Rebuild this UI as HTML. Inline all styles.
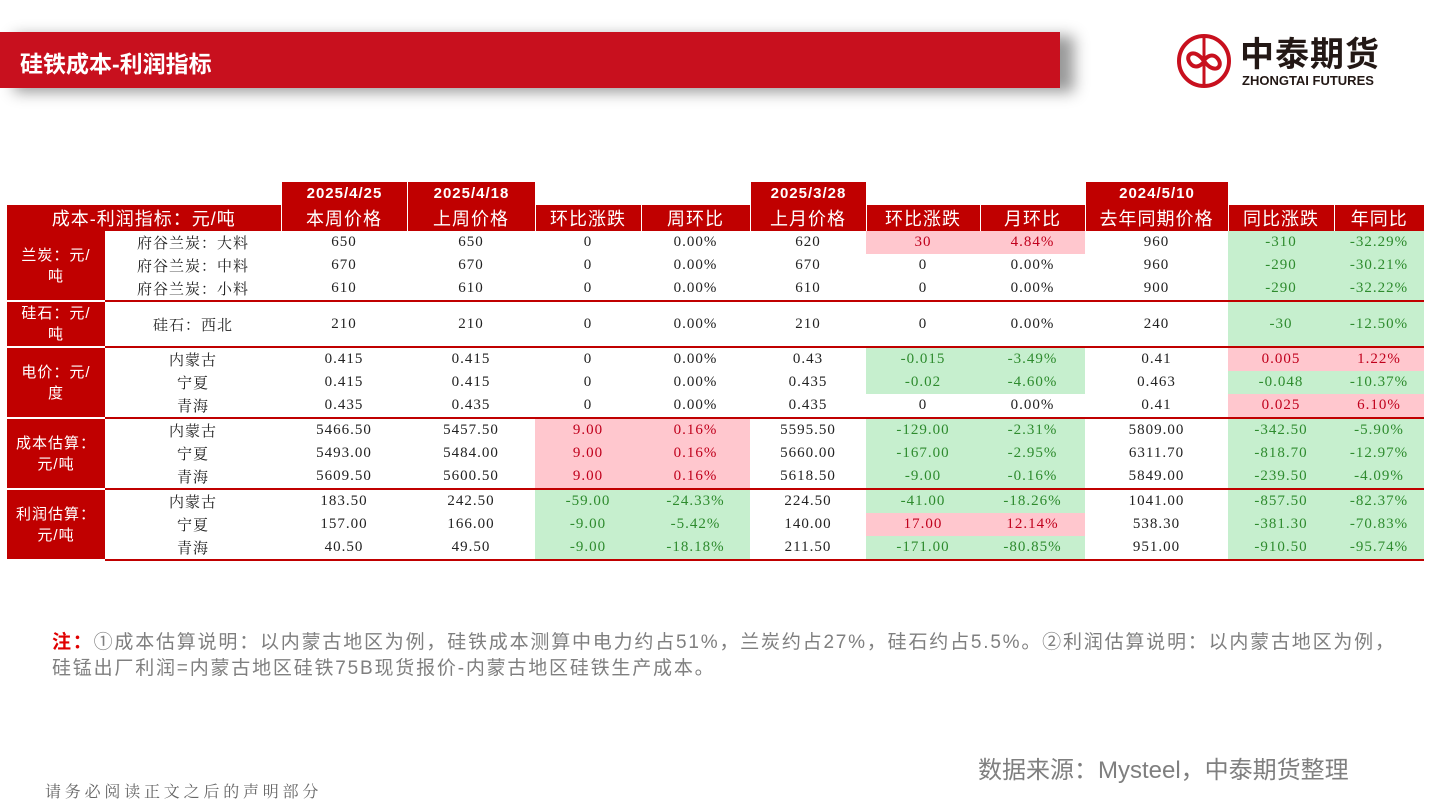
<!DOCTYPE html>
<html><head><meta charset="utf-8">
<style>
body{margin:0;width:1440px;height:810px;background:#fff;position:relative;overflow:hidden;font-family:"Liberation Sans","Noto Sans CJK SC",sans-serif;}
.abs{position:absolute;}
#bar{left:0;top:32px;width:1060px;height:56px;background:#c8101e;box-shadow:14px 4px 14px #999;}
#title{left:20px;top:45px;color:#fff;font-size:23px;font-weight:bold;}
table{position:absolute;left:7px;top:205px;border-collapse:collapse;table-layout:fixed;font-family:"Liberation Serif","Noto Serif CJK SC",serif;font-size:15px;color:#222;letter-spacing:1px;}
td{padding:0;height:23px;text-align:center;white-space:nowrap;}
th{background:#c00000;color:#fff;font-weight:normal;font-size:18px;height:25px;border-left:1px solid #fff;font-family:"Liberation Sans","Noto Sans CJK SC",sans-serif;padding:0;letter-spacing:1px;}
td.cat{background:#c00000;color:#fff;font-family:"Liberation Sans","Noto Sans CJK SC",sans-serif;font-size:15px;line-height:21px;white-space:normal;border-bottom:2px solid #fff;}
tr.gs td{border-top:2px solid #c00000;}
tr.gs td.cat{border-top:2px solid #fff;}
.p{background:#ffc7ce;color:#c0001c;}
.g{background:#c6efce;color:#2e8b2e;}
.date{top:182px;height:23px;background:#c00000;color:#fff;font-size:15px;font-weight:bold;text-align:center;line-height:23px;border-left:1px solid #fff;letter-spacing:1px;}
#note{left:52px;top:630px;font-size:19px;color:#7f7f7f;line-height:26px;width:1385px;letter-spacing:1.8px;white-space:nowrap;}
#src{left:978px;top:750px;font-size:24px;color:#7f7f7f;}
#foot{left:45px;top:779px;font-size:16px;color:#666;font-family:"Liberation Serif","Noto Serif CJK SC",serif;letter-spacing:3.8px;}
</style></head><body>
<div class="abs" id="bar"></div>
<div class="abs" id="title">硅铁成本-利润指标</div>
<div class="abs" style="left:1176px;top:33px;width:232px;height:56px;">
<svg width="58" height="56" style="position:absolute;left:0;top:0">
<circle cx="28" cy="28" r="25" fill="none" stroke="#c8101e" stroke-width="4"/>
<path d="M28 4 V52" stroke="#c8101e" stroke-width="3"/>
<path d="M28 28 C18 14 8 22 14 30 C20 38 28 30 28 28 C28 26 36 18 42 26 C48 34 38 42 28 28" fill="none" stroke="#c8101e" stroke-width="4"/>
</svg>
<div style="position:absolute;left:64px;top:2px;font-size:34px;font-weight:bold;color:#231815;letter-spacing:1px;line-height:40px;">中泰期货</div>
<div style="position:absolute;left:66px;top:40px;font-size:13px;font-weight:bold;color:#231815;">ZHONGTAI FUTURES</div>
</div>

<div class="abs date" style="left:281px;width:125px;">2025/4/25</div>
<div class="abs date" style="left:407px;width:127px;">2025/4/18</div>
<div class="abs date" style="left:750px;width:115px;">2025/3/28</div>
<div class="abs date" style="left:1085px;width:142px;">2024/5/10</div>

<table>
<colgroup><col style="width:98px"><col style="width:176px"><col style="width:126px"><col style="width:128px"><col style="width:106px"><col style="width:109px"><col style="width:116px"><col style="width:114px"><col style="width:105px"><col style="width:143px"><col style="width:106px"><col style="width:90px"></colgroup>
<tr><th colspan="2" style="border-left:none">成本-利润指标：元/吨</th><th>本周价格</th><th>上周价格</th><th>环比涨跌</th><th>周环比</th><th>上月价格</th><th>环比涨跌</th><th>月环比</th><th>去年同期价格</th><th>同比涨跌</th><th>年同比</th></tr>
<tr><td class="cat" rowspan="3">兰炭：元/<br>吨</td><td>府谷兰炭：大料</td><td>650</td><td>650</td><td>0</td><td>0.00%</td><td>620</td><td class="p">30</td><td class="p">4.84%</td><td>960</td><td class="g">-310</td><td class="g">-32.29%</td></tr>
<tr><td>府谷兰炭：中料</td><td>670</td><td>670</td><td>0</td><td>0.00%</td><td>670</td><td>0</td><td>0.00%</td><td>960</td><td class="g">-290</td><td class="g">-30.21%</td></tr>
<tr><td>府谷兰炭：小料</td><td>610</td><td>610</td><td>0</td><td>0.00%</td><td>610</td><td>0</td><td>0.00%</td><td>900</td><td class="g">-290</td><td class="g">-32.22%</td></tr>
<tr class="gs"><td class="cat" style="height:44px">硅石：元/<br>吨</td><td>硅石：西北</td><td>210</td><td>210</td><td>0</td><td>0.00%</td><td>210</td><td>0</td><td>0.00%</td><td>240</td><td class="g">-30</td><td class="g">-12.50%</td></tr>
<tr class="gs"><td class="cat" rowspan="3">电价：元/<br>度</td><td>内蒙古</td><td>0.415</td><td>0.415</td><td>0</td><td>0.00%</td><td>0.43</td><td class="g">-0.015</td><td class="g">-3.49%</td><td>0.41</td><td class="p">0.005</td><td class="p">1.22%</td></tr>
<tr><td>宁夏</td><td>0.415</td><td>0.415</td><td>0</td><td>0.00%</td><td>0.435</td><td class="g">-0.02</td><td class="g">-4.60%</td><td>0.463</td><td class="g">-0.048</td><td class="g">-10.37%</td></tr>
<tr><td>青海</td><td>0.435</td><td>0.435</td><td>0</td><td>0.00%</td><td>0.435</td><td>0</td><td>0.00%</td><td>0.41</td><td class="p">0.025</td><td class="p">6.10%</td></tr>
<tr class="gs"><td class="cat" rowspan="3">成本估算：<br>元/吨</td><td>内蒙古</td><td>5466.50</td><td>5457.50</td><td class="p">9.00</td><td class="p">0.16%</td><td>5595.50</td><td class="g">-129.00</td><td class="g">-2.31%</td><td>5809.00</td><td class="g">-342.50</td><td class="g">-5.90%</td></tr>
<tr><td>宁夏</td><td>5493.00</td><td>5484.00</td><td class="p">9.00</td><td class="p">0.16%</td><td>5660.00</td><td class="g">-167.00</td><td class="g">-2.95%</td><td>6311.70</td><td class="g">-818.70</td><td class="g">-12.97%</td></tr>
<tr><td>青海</td><td>5609.50</td><td>5600.50</td><td class="p">9.00</td><td class="p">0.16%</td><td>5618.50</td><td class="g">-9.00</td><td class="g">-0.16%</td><td>5849.00</td><td class="g">-239.50</td><td class="g">-4.09%</td></tr>
<tr class="gs"><td class="cat" rowspan="3">利润估算：<br>元/吨</td><td>内蒙古</td><td>183.50</td><td>242.50</td><td class="g">-59.00</td><td class="g">-24.33%</td><td>224.50</td><td class="g">-41.00</td><td class="g">-18.26%</td><td>1041.00</td><td class="g">-857.50</td><td class="g">-82.37%</td></tr>
<tr><td>宁夏</td><td>157.00</td><td>166.00</td><td class="g">-9.00</td><td class="g">-5.42%</td><td>140.00</td><td class="p">17.00</td><td class="p">12.14%</td><td>538.30</td><td class="g">-381.30</td><td class="g">-70.83%</td></tr>
<tr style="border-bottom:2px solid #c00000"><td>青海</td><td>40.50</td><td>49.50</td><td class="g">-9.00</td><td class="g">-18.18%</td><td>211.50</td><td class="g">-171.00</td><td class="g">-80.85%</td><td>951.00</td><td class="g">-910.50</td><td class="g">-95.74%</td></tr>
</table>

<div class="abs" id="note"><span style="color:#e00000;font-weight:bold">注：</span>①成本估算说明：以内蒙古地区为例，硅铁成本测算中电力约占51%，兰炭约占27%，硅石约占5.5%。②利润估算说明：以内蒙古地区为例，<br>硅锰出厂利润=内蒙古地区硅铁75B现货报价-内蒙古地区硅铁生产成本。</div>
<div class="abs" id="src">数据来源：Mysteel，中泰期货整理</div>
<div class="abs" id="foot">请务必阅读正文之后的声明部分</div>
</body></html>
